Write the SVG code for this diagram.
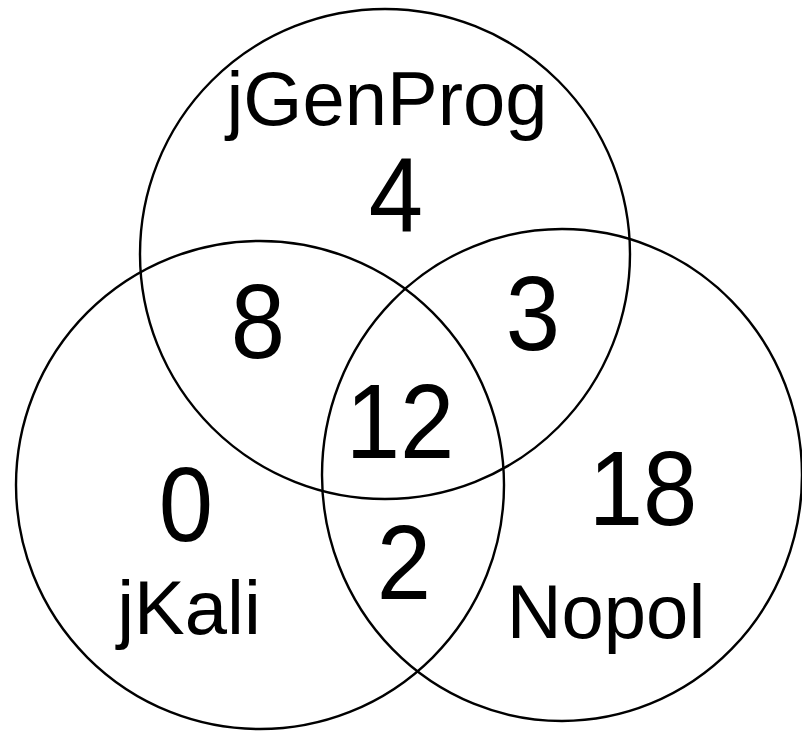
<svg xmlns="http://www.w3.org/2000/svg" width="802" height="732" viewBox="0 0 802 732">
<style>
.set{fill:none;stroke:#000;stroke-width:2.4}
.lbl{font-family:"Liberation Sans",Arial,sans-serif;font-size:76px;text-anchor:middle;fill:#000}
.num{font-family:"Liberation Sans",Arial,sans-serif;font-size:105px;text-anchor:middle;fill:#000}
</style>
<rect width="802" height="732" fill="#fff"/>
<g id="jGenProg">
<circle class="set" cx="385" cy="254" r="245"/>
<text class="lbl" x="387" y="125">jGenProg</text>
</g>
<g id="jKali">
<circle class="set" cx="260" cy="485" r="244"/>
<text class="lbl" x="189" y="634">jKali</text>
</g>
<g id="Nopol">
<ellipse class="set" cx="562" cy="475" rx="240" ry="246"/>
<text class="lbl" x="606" y="638">Nopol</text>
</g>
<g id="counts">
<text class="num" transform="translate(396,232) scale(0.93,1)">4</text>
<text class="num" transform="translate(258,358) scale(0.93,1)">8</text>
<text class="num" transform="translate(533,350) scale(0.93,1)">3</text>
<text class="num" transform="translate(400,458) scale(0.93,1)">12</text>
<text class="num" transform="translate(186,541) scale(0.93,1)">0</text>
<text class="num" transform="translate(643,525) scale(0.93,1)">18</text>
<text class="num" transform="translate(404,599) scale(0.93,1)">2</text>
</g>
</svg>
